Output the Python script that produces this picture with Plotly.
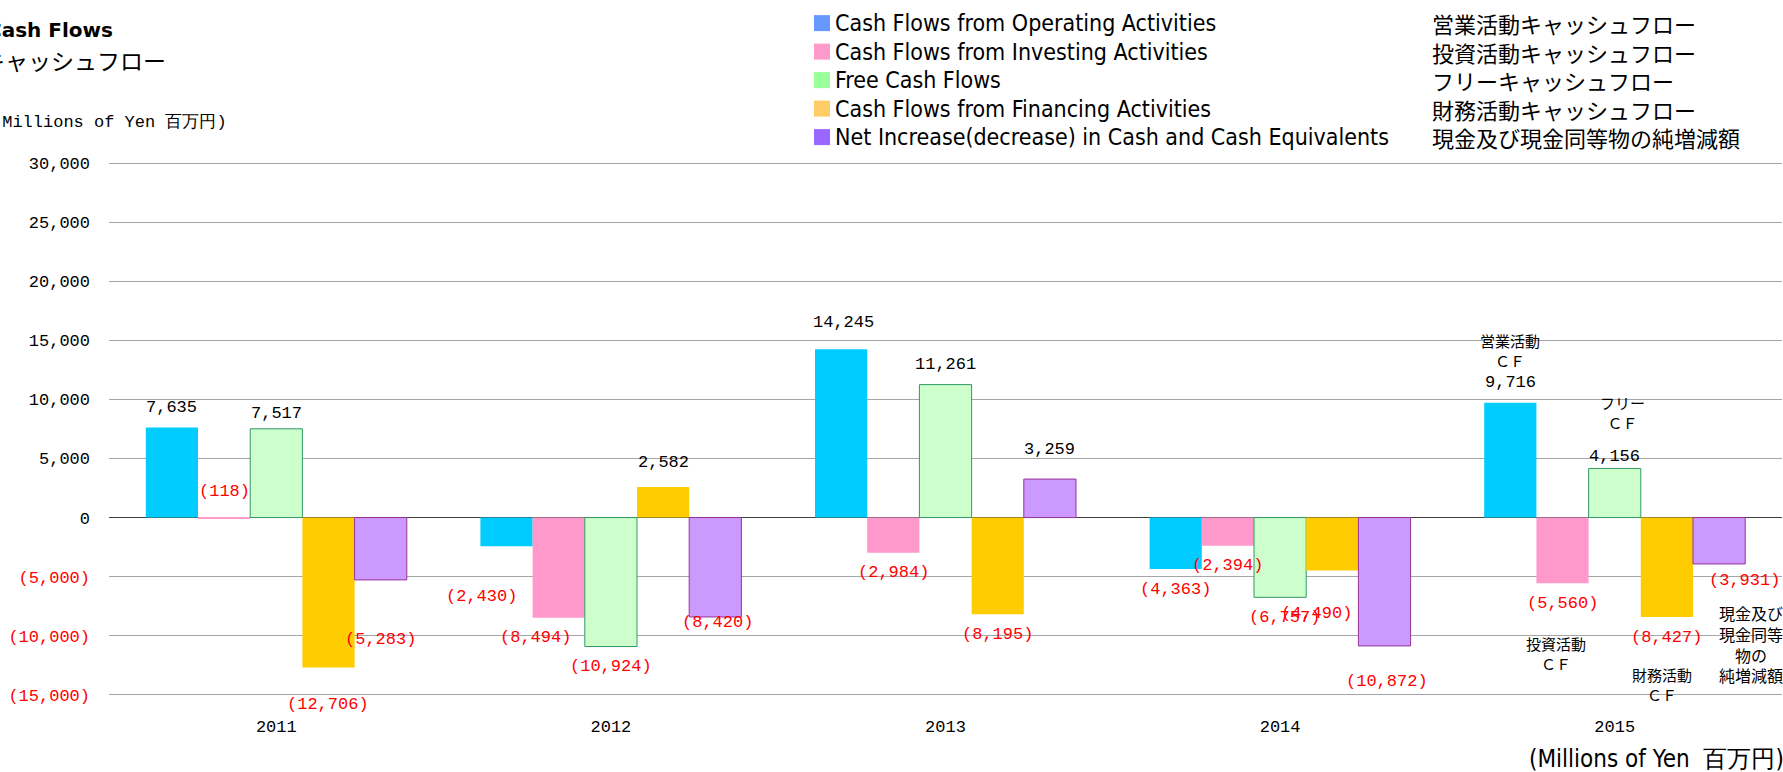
import plotly.graph_objects as go

# ---- data (millions of yen) ----
years = ["2011", "2012", "2013", "2014", "2015"]
operating = [7635, -2430, 14245, -4363, 9716]
investing = [-118, -8494, -2984, -2394, -5560]
free_cf = [7517, -10924, 11261, -6757, 4156]
financing = [-12706, 2582, -8195, -4490, -8427]
net_change = [-5283, -8420, 3259, -10872, -3931]

names_en = [
    "Cash Flows from Operating Activities",
    "Cash Flows from Investing Activities",
    "Free Cash Flows",
    "Cash Flows from Financing Activities",
    "Net Increase(decrease) in Cash and Cash Equivalents",
]
names_jp = [
    "営業活動キャッシュフロー",
    "投資活動キャッシュフロー",
    "フリーキャッシュフロー",
    "財務活動キャッシュフロー",
    "現金及び現金同等物の純増減額",
]
callouts_2015 = ["営業活動<br>ＣＦ", "投資活動<br>ＣＦ", "フリー<br>ＣＦ", "財務活動<br>ＣＦ",
                 "現金及び<br>現金同等<br>物の<br>純増減額"]
y_ticks = list(range(-15000, 30001, 5000))

series = [operating, investing, free_cf, financing, net_change]

# ---- styling ----
bar_fill = ["#00CCFF", "#FF99CC", "#CCFFCC", "#FFCC00", "#CC99FF"]
bar_edge = ["#00CCFF", "#FF99CC", "#339966", "#FFCC00", "#993399"]
bar_edge_w = [0, 0, 1, 0, 1]
legend_sq = ["#6699FF", "#FF99CC", "#99FF99", "#FFCC66", "#9966FF"]
GRID = "#A6A6A6"

NUM = "Liberation Mono, DejaVu Sans Mono, monospace"
JP = "Noto Sans CJK JP"
COND = "DejaVu Sans Condensed, DejaVu Sans, sans-serif"

W, H = 1783, 772
L, R, T, B = 109, 1782, 162.6, 694.7
BARGAP = 0.22
bw = (R - L) / len(years) * (1 - BARGAP) / len(series)


def pxx(x):
    return (x - L) / (R - L)


def pxy(y):
    return (B - y) / (B - T)


def fmt(v):
    return f"{v:,}" if v >= 0 else f"({-v:,})"


fig = go.Figure()
for k, vals in enumerate(series):
    fig.add_trace(go.Bar(
        x=years, y=vals, name=names_en[k], showlegend=False,
        marker=dict(color=bar_fill[k], line=dict(color=bar_edge[k], width=bar_edge_w[k])),
    ))

annotations = []

# value labels; nudges (dx, dy) in px: dy pushes label further from the bar end
nudges = {
    (0, 1): (0, -47), (0, 2): (0, -5), (0, 3): (0, 17), (0, 4): (0, 40),
    (1, 0): (-25, 30), (1, 1): (-23, 0), (1, 3): (0, 5), (1, 4): (2, -14),
    (2, 0): (2, 7), (2, 4): (0, 10),
    (3, 3): (-16, 23), (3, 4): (3, 16), (3, 2): (4, 0),
    (4, 2): (0, -8), (4, 4): (25, -3),
}
for k, vals in enumerate(series):
    for j, v in enumerate(vals):
        dx, dy = nudges.get((j, k), (0, 0))
        off = 20 + dy
        annotations.append(dict(
            x=j, y=v, xref="x", yref="y", text=fmt(v), showarrow=False,
            xshift=(k - 2) * bw + dx, yshift=off if v >= 0 else -off,
            xanchor="center", yanchor="middle",
            font=dict(family=NUM, size=17, color="#000000" if v >= 0 else "#FF0000"),
        ))

# 2015 callouts (positioned relative to the bar ends)
call_off = [(0, 52), (-7, 70), (8, 56), (-5, 67), (32, 80)]
for k, txt in enumerate(callouts_2015):
    v = series[k][-1]
    dx, dy = call_off[k]
    annotations.append(dict(
        x=len(years) - 1, y=v, xref="x", yref="y", text=txt, showarrow=False,
        xshift=(k - 2) * bw + dx, yshift=dy if v >= 0 else -dy,
        xanchor="center", yanchor="middle", align="center",
        font=dict(family=JP, size=15 if k < 4 else 16, color="#000000"),
    ))

# titles
annotations += [
    dict(x=pxx(-14.7), y=pxy(30), xref="paper", yref="paper", text="<b>Cash Flows</b>",
         showarrow=False, xanchor="left", yanchor="middle",
         font=dict(family="DejaVu Sans", size=20, color="#000000")),
    dict(x=pxx(-20), y=pxy(60), xref="paper", yref="paper", text="キャッシュフロー",
         showarrow=False, xanchor="left", yanchor="middle",
         font=dict(family=JP, size=23, color="#000000")),
    dict(x=pxx(-10), y=pxy(122), xref="paper", yref="paper", text="(Millions of Yen 百万円)",
         showarrow=False, xanchor="left", yanchor="middle",
         font=dict(family=NUM, size=17, color="#000000")),
    dict(x=pxx(1527), y=pxy(759), xref="paper", yref="paper", text="(Millions of Yen  百万円)",
         showarrow=False, xanchor="left", yanchor="middle",
         font=dict(family=COND, size=24, color="#000000")),
]

# custom legend
shapes = []
row_y = [22.7, 51.2, 79.7, 108.2, 136.7]
for k in range(len(series)):
    y0 = row_y[k]
    shapes.append(dict(type="rect", xref="paper", yref="paper",
                       x0=pxx(814), x1=pxx(830), y0=pxy(y0 + 8), y1=pxy(y0 - 8),
                       fillcolor=legend_sq[k], line=dict(width=0)))
    annotations.append(dict(x=pxx(833), y=pxy(y0), xref="paper", yref="paper", text=names_en[k],
                            showarrow=False, xanchor="left", yanchor="middle",
                            font=dict(family=COND, size=23, color="#000000")))
    annotations.append(dict(x=pxx(1430), y=pxy(y0), xref="paper", yref="paper", text=names_jp[k],
                            showarrow=False, xanchor="left", yanchor="middle",
                            font=dict(family=JP, size=22, color="#000000")))

# gridlines at the top/bottom edge of the value range (plotly skips them at the border)
for t in (y_ticks[0], y_ticks[-1]):
    shapes.append(dict(type="line", xref="paper", yref="y", x0=0, x1=1, y0=t, y1=t,
                       layer="below", line=dict(color=GRID, width=1.3)))

tick_text = [fmt(t) if t >= 0 else f"<span style='color:#FF0000'>{fmt(t)}</span>" for t in y_ticks]

fig.update_layout(
    width=W, height=H,
    margin=dict(l=L, r=W - R, t=T, b=H - B, pad=0),
    paper_bgcolor="white", plot_bgcolor="white",
    barmode="group", bargap=BARGAP, bargroupgap=0,
    showlegend=False,
    annotations=annotations, shapes=shapes,
)
fig.update_yaxes(
    range=[-15030, 30030], tickvals=y_ticks, ticktext=tick_text,
    showgrid=True, gridcolor=GRID, gridwidth=1.3,
    zeroline=True, zerolinecolor="#404040", zerolinewidth=1.3,
    showline=False, ticks="", ticklabelstandoff=18,
    tickfont=dict(family=NUM, size=17, color="#000000"),
)
fig.update_xaxes(
    type="category", range=[-0.5, len(years) - 0.5], showgrid=False, showline=False,
    ticks="", ticklabelstandoff=19,
    tickfont=dict(family=NUM, size=17, color="#000000"),
)

fig.write_html("out.html", config={"displayModeBar": False},
               post_script="document.body.style.margin='0';")
